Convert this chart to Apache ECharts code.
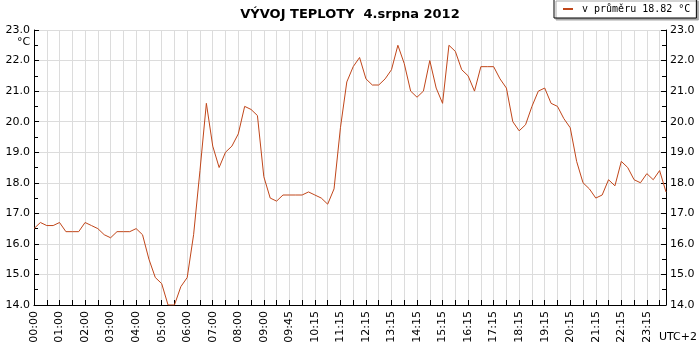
<!DOCTYPE html>
<html>
<head>
<meta charset="utf-8">
<script src="https://cdn.jsdelivr.net/npm/echarts@6/dist/echarts.min.js"></script>
<style>
  html, body { margin: 0; padding: 0; background: #fff; }
  #chart { width: 700px; height: 350px; }
</style>
</head>
<body>
<div id="chart"></div>
<script>
// casy mereni (popisky osy x, zobrazen kazdy 4.)
const times = [
  '00:00', '00:15', '00:30', '00:45', '01:00', '01:15', '01:30', '01:45',
  '02:00', '02:15', '02:30', '02:45', '03:00', '03:15', '03:30', '03:45',
  '04:00', '04:15', '04:30', '04:45', '05:00', '05:15', '05:30', '05:45',
  '06:00', '06:15', '06:30', '06:45', '07:00', '07:15', '07:30', '07:45',
  '08:00', '08:15', '08:30', '08:45', '09:00', '09:15', '09:30', '09:40',
  '09:45', '09:50', '10:00', '10:05', '10:15', '10:30', '10:45', '11:00',
  '11:15', '11:30', '11:45', '12:00', '12:15', '12:30', '12:45', '13:00',
  '13:15', '13:30', '13:45', '14:00', '14:15', '14:30', '14:45', '15:00',
  '15:15', '15:30', '15:45', '16:00', '16:15', '16:30', '16:45', '17:00',
  '17:15', '17:30', '17:45', '18:00', '18:15', '18:30', '18:45', '19:00',
  '19:15', '19:30', '19:45', '20:00', '20:15', '20:30', '20:45', '21:00',
  '21:15', '21:30', '21:45', '22:00', '22:15', '22:30', '22:45', '23:00',
  '23:15', '23:30', '23:45', '23:59'
]

// teplota (°C)
const temps = [
  16.5, 16.7, 16.6, 16.6, 16.7, 16.4, 16.4, 16.4, 16.7, 16.6,
  16.5, 16.3, 16.2, 16.4, 16.4, 16.4, 16.5, 16.3, 15.5, 14.9,
  14.7, 14.0, 14.0, 14.6, 14.9, 16.3, 18.4, 20.6, 19.2, 18.5,
  19.0, 19.2, 19.6, 20.5, 20.4, 20.2, 18.2, 17.5, 17.4, 17.6,
  17.6, 17.6, 17.6, 17.7, 17.6, 17.5, 17.3, 17.8, 19.8, 21.3,
  21.8, 22.1, 21.4, 21.2, 21.2, 21.4, 21.7, 22.5, 21.9, 21.0,
  20.8, 21.0, 22.0, 21.1, 20.6, 22.5, 22.3, 21.7, 21.5, 21.0,
  21.8, 21.8, 21.8, 21.4, 21.1, 20.0, 19.7, 19.9, 20.5, 21.0,
  21.1, 20.6, 20.5, 20.1, 19.8, 18.7, 18.0, 17.8, 17.5, 17.6,
  18.1, 17.9, 18.7, 18.5, 18.1, 18.0, 18.3, 18.1, 18.4, 17.7
]

const seriesName = 'v průměru 18.82 °C'
const titleText = 'VÝVOJ TEPLOTY  4.srpna 2012'

const font = 'DejaVu Sans'

const yAxisCommon = {
  type: 'value',
  min: 14,
  max: 23,
  interval: 1,
  axisLine: { show: true, lineStyle: { color: '#000', width: 1 } },
  axisTick: { show: true, inside: true, length: 5, lineStyle: { color: '#000' } },
  minorTick: { show: true, splitNumber: 2, length: 4, lineStyle: { color: '#000' } },
  axisLabel: {
    color: '#000',
    fontFamily: font,
    fontSize: 11,
    margin: 4,
    formatter: (v) => v.toFixed(1)
  }
}

const chart = echarts.init(document.getElementById('chart'))
chart.setOption({
  animation: false,
  backgroundColor: '#fff',
  title: {
    text: titleText,
    left: 'center',
    top: 3,
    textStyle: { fontFamily: font, fontSize: 13, fontWeight: 'bold', color: '#000' }
  },
  legend: {
    left: 554,
    top: -1,
    padding: [5, 6, 4, 9],
    backgroundColor: '#fff',
    borderColor: '#000',
    borderWidth: 1,
    shadowColor: '#a8a8a8',
    shadowBlur: 0,
    shadowOffsetX: 2,
    shadowOffsetY: 2,
    icon: 'rect',
    itemWidth: 10,
    itemHeight: 2,
    textStyle: { fontFamily: 'DejaVu Sans Mono', fontSize: 10, color: '#000', padding: [0, 0, 0, 4] },
    data: [seriesName]
  },
  grid: {
    left: 34,
    right: 34,
    top: 30,
    bottom: 45
  },
  xAxis: {
    type: 'category',
    boundaryGap: false,
    data: times,
    axisLine: { lineStyle: { color: '#000', width: 1 } },
    axisTick: { show: true, inside: true, length: 5, interval: 1, lineStyle: { color: '#000' } },
    splitLine: { show: true, interval: 1, lineStyle: { color: '#dcdcdc', width: 1 } },
    axisLabel: {
      interval: 3,
      rotate: 90,
      margin: 6,
      color: '#000',
      fontFamily: font,
      fontSize: 11
    }
  },
  yAxis: [
    Object.assign({}, yAxisCommon, {
      position: 'left',
      splitLine: { show: true, lineStyle: { color: '#dcdcdc', width: 1 } }
    }),
    Object.assign({}, yAxisCommon, {
      position: 'right',
      splitLine: { show: false }
    })
  ],
  graphic: [
    {
      type: 'text',
      left: 17,
      top: 37,
      style: { text: '°C', fontFamily: font, fontSize: 11, fill: '#000' }
    },
    {
      type: 'text',
      right: 3,
      top: 332,
      style: { text: 'UTC+2', fontFamily: font, fontSize: 11, fill: '#000' }
    }
  ],
  series: [
    {
      name: seriesName,
      type: 'line',
      yAxisIndex: 0,
      data: temps,
      showSymbol: false,
      clip: true,
      color: '#c0461a',
      lineStyle: { width: 1, color: '#c0461a' }
    }
  ]
})
</script>
</body>
</html>
